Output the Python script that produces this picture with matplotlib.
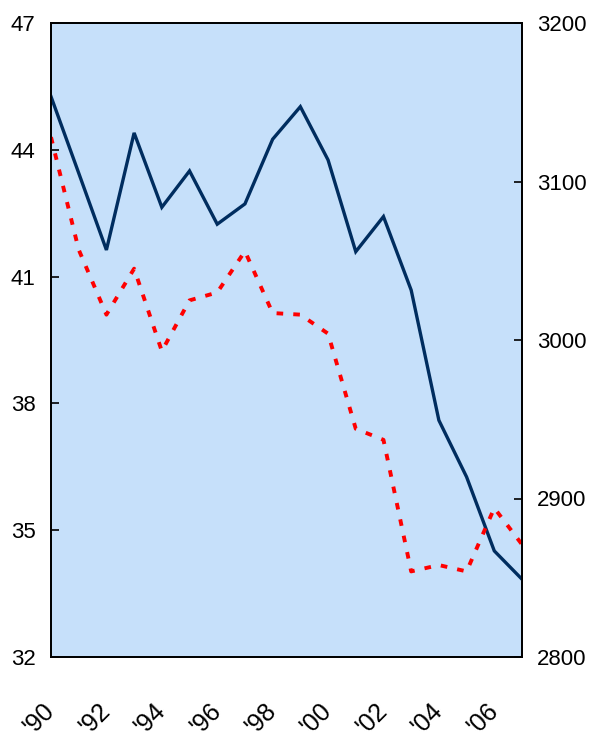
import numpy as np
import matplotlib
matplotlib.use("Agg")
import matplotlib.pyplot as plt

# data
years = list(range(1990, 2008))
left_vals = [45.26, 43.45, 41.63, 44.40, 42.64, 43.50, 42.24, 42.72, 44.25,
             45.02, 43.76, 41.59, 42.42, 40.68, 37.60, 36.26, 34.51, 33.84]
right_vals = [3128, 3057, 3016, 3045, 2993, 3025, 3030, 3056, 3017,
              3016, 3004, 2944, 2937, 2854, 2858, 2854, 2894, 2871]
xtick_years = list(range(1990, 2008, 2))
xtick_labels = ["'" + str(y)[2:] for y in xtick_years]
left_ticks = [32, 35, 38, 41, 44, 47]
right_ticks = [2800, 2900, 3000, 3100, 3200]

plt.rcParams['font.family'] = ['Liberation Sans', 'DejaVu Sans']

fig = plt.figure(figsize=(5.92, 7.44), dpi=100)
ax = fig.add_axes([51/592, 1 - 657/744, 471/592, 634/744])
ax.set_facecolor('#C6E0FA')

ax.plot(years, left_vals, color='#002D5F', lw=2.4, solid_joinstyle='miter', zorder=3)
ax.set_xlim(1990, 2007)
ax.set_ylim(32, 47)
ax.set_yticks(left_ticks)
ax.set_xticks(xtick_years)
ax.set_xticklabels(xtick_labels, rotation=45, ha='right', va='center',
                   rotation_mode='anchor')

ax2 = ax.twinx()
ax2.plot(years, right_vals, color='#FF0000', lw=2.8, ls=(0, (1.7, 2.6)), zorder=2)
ax2.set_ylim(2800, 3200)
ax2.set_yticks(right_ticks)

ax.tick_params(axis='y', direction='in', length=6, width=1.2, labelsize=16, pad=11)
ax.tick_params(axis='x', length=0, labelsize=18, pad=36)
ax2.tick_params(axis='y', direction='in', length=6, width=1.2, labelsize=16, pad=11)

for a in (ax, ax2):
    for s in a.spines.values():
        s.set_linewidth(1.3)
        s.set_color('#000000')

fig.savefig('out.png', dpi=100)
